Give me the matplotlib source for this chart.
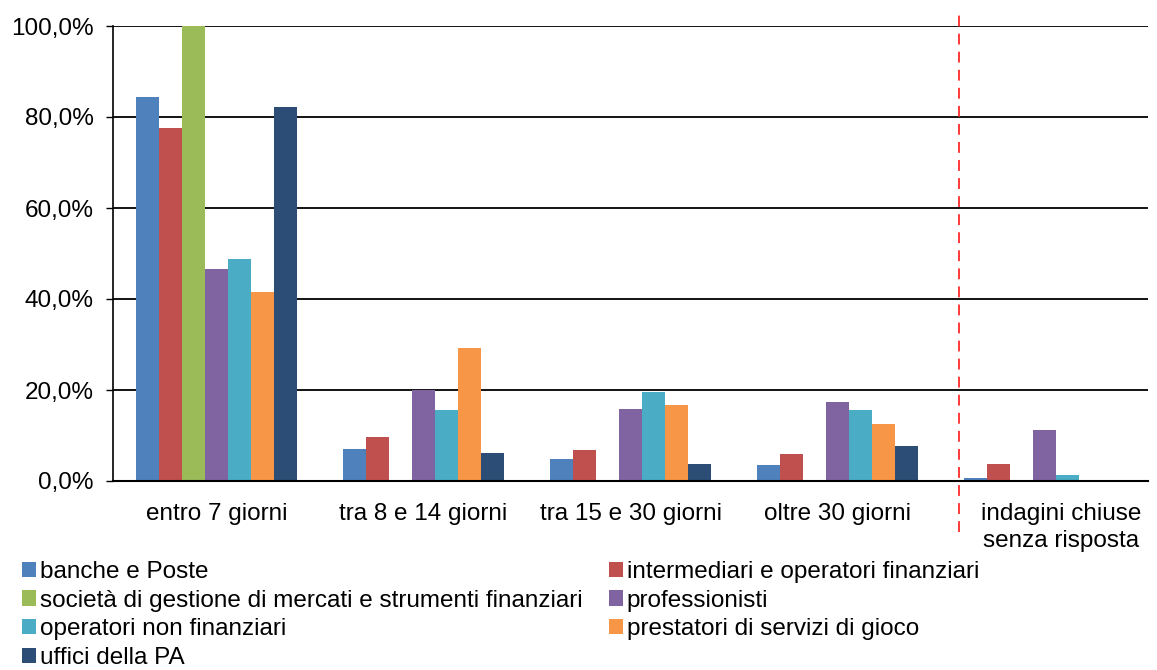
import matplotlib
matplotlib.use("Agg")
import matplotlib.pyplot as plt
import matplotlib.transforms as mtransforms
import numpy as np
from matplotlib.lines import Line2D
from matplotlib.patches import Patch

plt.rcParams['font.family'] = ['Liberation Sans', 'DejaVu Sans']

categories = ["entro 7 giorni", "tra 8 e 14 giorni", "tra 15 e 30 giorni",
              "oltre 30 giorni", "indagini chiuse\nsenza risposta"]
series_names = ["banche e Poste", "intermediari e operatori finanziari",
                "società di gestione di mercati e strumenti finanziari",
                "professionisti", "operatori non finanziari",
                "prestatori di servizi di gioco", "uffici della PA"]
banche = [84.4, 7.0, 4.8, 3.5, 0.7]
intermediari = [77.6, 9.6, 6.8, 5.9, 3.7]
societa = [100.0, 0.0, 0.0, 0.0, 0.0]
professionisti = [46.6, 20.1, 15.8, 17.4, 11.2]
operatori = [48.8, 15.7, 19.6, 15.7, 1.4]
prestatori = [41.5, 29.2, 16.7, 12.5, 0.0]
uffici = [82.2, 6.2, 3.7, 7.6, 0.0]
series = [banche, intermediari, societa, professionisti, operatori, prestatori, uffici]
colors = ["#4F81BD", "#C0504D", "#9BBB59", "#8064A2", "#4BACC6", "#F79646", "#2C4D75"]
yticks = [0, 20, 40, 60, 80, 100]
ytick_labels = ["0,0%", "20,0%", "40,0%", "60,0%", "80,0%", "100,0%"]

FS = 17.5

fig = plt.figure(figsize=(11.57, 6.70), dpi=100)
ax = fig.add_axes([113/1157, 1-481/670, (1148-113)/1157, (481-26)/670])

x = np.arange(len(categories))
w = 0.111
for i, (vals, c) in enumerate(zip(series, colors)):
    ax.bar(x + (i - 3) * w, vals, width=w, color=c, edgecolor='none', zorder=3)

ax.set_xlim(-0.5, 4.5)
ax.set_ylim(0, 100)
ax.set_yticks(yticks)
ax.set_yticklabels(ytick_labels, fontsize=FS)
ax.set_xticks(x)
ax.set_xticklabels(categories, fontsize=FS, va='top', linespacing=1.3)
ax.tick_params(axis='x', length=0, pad=16)
ax.tick_params(axis='y', length=5, width=1, pad=9, direction='out')
ax.grid(axis='y', color='black', linewidth=1.3, zorder=1)
for s in ['top', 'right']:
    ax.spines[s].set_visible(False)
ax.spines['left'].set_linewidth(1.2)
ax.spines['bottom'].set_linewidth(1.5)
ax.spines['bottom'].set_zorder(4)

# last label sits a bit to the right of its group centre (clear of the separator)
lab = ax.get_xticklabels()[-1]
lab.set_transform(lab.get_transform() + mtransforms.ScaledTranslation(17/100, 0, fig.dpi_scale_trans))

# red dashed separator
trans = ax.get_xaxis_transform()
ax.add_line(Line2D([3.587, 3.587], [-0.112, 1.033], transform=trans, color='#FF2A2A',
                   linewidth=1.3, linestyle=(0, (6, 4)), clip_on=False, zorder=5))

handles = [Patch(facecolor=c, edgecolor='none') for c in colors]
order = [0, 2, 4, 6, 1, 3, 5]
fig.legend([handles[i] for i in order], [series_names[i] for i in order],
           loc='upper left', bbox_to_anchor=(22/1157, 1-561/670), ncol=2,
           frameon=False, fontsize=FS, handlelength=0.58, handleheight=0.58,
           handletextpad=0.15, labelspacing=0.27, columnspacing=1.1,
           borderaxespad=0, borderpad=0)

fig.savefig("out.png", dpi=100)
